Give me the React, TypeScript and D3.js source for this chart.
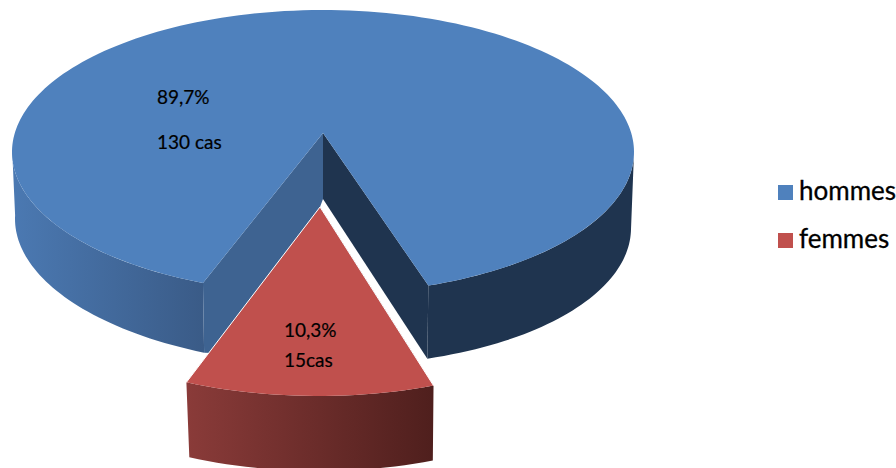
import React from "react";
import * as d3 from "d3";

// Répartition des cas selon le sexe
const categories = ["hommes", "femmes"];
const caseCounts = [130, 15];
const percentLabels = ["89,7%", "10,3%"];
const caseLabels = ["130 cas", "15cas"];
const topColors = ["#4F81BD", "#C0504D"];

const WIDTH = 896;
const HEIGHT = 468;
const rad = Math.PI / 180;

type Pt = [number, number];
type Rim = { cx: number; cy: number; rx: number; ry: number; skew?: number };

// Perspective: the pie is turned so the small slice faces the viewer.
const halfSmallSlice = (360 * caseCounts[1]) / d3.sum(caseCounts) / 2;
const pieLayout = d3
  .pie<number>()
  .sort(null)
  .startAngle((180 + halfSmallSlice) * rad)
  .endAngle((540 + halfSmallSlice) * rad);
const [menArc, womenArc] = pieLayout(caseCounts);

const warped = (a: number) => a + 4.35 * rad * Math.sin(2 * a) + 1.45 * rad;

const onRim = (r: Rim, a: number): Pt => {
  const t = warped(a);
  const x = r.cx + r.rx * Math.sin(t);
  const y = r.cy - r.ry * Math.cos(t) + (r.skew ?? 0) * (x - r.cx);
  return [x, y];
};

const sweep = (r: Rim, a0: number, a1: number): Pt[] => {
  const n = Math.max(8, Math.ceil(Math.abs(a1 - a0) / (1.5 * rad)));
  return d3.range(n + 1).map((i) => onRim(r, a0 + ((a1 - a0) * i) / n));
};

const line = d3.line<Pt>();
const closed = (pts: Pt[]) => line(pts) + "Z";

const menTop: Rim = { cx: 323, cy: 152, rx: 311, ry: 142 };
const menBottom: Rim = { cx: 323, cy: 223.5, rx: 308, ry: 142, skew: 0.015 };
const menApex: Pt = [323, 133];
const menApexBase: Pt = [323, 199];

const womenTop: Rim = { cx: 318, cy: 220, rx: 341, ry: 176 };
const womenBottom: Rim = { cx: 319, cy: 295, rx: 336, ry: 176 };
const womenApex: Pt = [320, 207];

const A0 = menArc.startAngle;
const A1 = menArc.endAngle;
const W0 = womenArc.startAngle;
const W1 = womenArc.endAngle;
const leftExtreme = Math.PI * 1.5;
const rightExtreme = Math.PI * 2.5;

const leftOuterWall = closed([...sweep(menTop, A0, leftExtreme), ...sweep(menBottom, leftExtreme, A0)]);
const rightOuterWall = closed([...sweep(menTop, A1, rightExtreme), ...sweep(menBottom, rightExtreme, A1)]);

// The left cut face runs on underneath the pulled-out slice.
const tuckPoint = d3.interpolate(womenApex, onRim(womenTop, W0))(0.85) as unknown as Pt;
const leftInnerWall = closed([menApex, onRim(menTop, A0), onRim(menBottom, A0), tuckPoint, womenApex, menApexBase]);
const rightInnerWall = closed([menApex, onRim(menTop, A1), onRim(menBottom, A1), menApexBase]);
const menFace = closed([menApex, ...sweep(menTop, A0, A1)]);

const womenWall = closed([...sweep(womenTop, W0, W1), ...sweep(womenBottom, W1, W0)]);
const womenFace = closed([womenApex, ...sweep(womenTop, W0, W1)]);

const labelFont = "Lato, sans-serif";

export default function App() {
  return (
    <svg
      width={WIDTH}
      height={HEIGHT}
      viewBox={`0 0 ${WIDTH} ${HEIGHT}`}
      style={{ position: "absolute", left: 0, top: 0, display: "block", background: "#fff" }}
    >
      <defs>
        <linearGradient id="menWall" x1="0" x2="1" y1="0" y2="0">
          <stop offset="0" stopColor="#4B79B2" />
          <stop offset="1" stopColor="#3A5B87" />
        </linearGradient>
        <linearGradient id="womenWallFill" x1="0" x2="1" y1="0" y2="0">
          <stop offset="0" stopColor="#8A3B39" />
          <stop offset="1" stopColor="#4F1F1D" />
        </linearGradient>
      </defs>

      <path d={leftOuterWall} fill="url(#menWall)" />
      <path d={rightOuterWall} fill="#1F344F" />
      <path d={leftInnerWall} fill="#3E6391" />
      <path d={rightInnerWall} fill="#1F344F" />
      <path d={menFace} fill={topColors[0]} />

      <path d={womenWall} fill="url(#womenWallFill)" />
      <path d={womenFace} fill={topColors[1]} />
      <path
        d={line([onRim(womenTop, W0), womenApex, onRim(womenTop, W1)]) ?? ""}
        fill="none"
        stroke="#fff"
        strokeWidth={1}
      />

      <g fontFamily={labelFont} fontSize={19} fill="#000" stroke="#000" strokeWidth={0.2}>
        <text x={157} y={104}>{percentLabels[0]}</text>
        <text x={157} y={149}>{caseLabels[0]}</text>
        <text x={284} y={337}>{percentLabels[1]}</text>
        <text x={284} y={367}>{caseLabels[1]}</text>
      </g>

      <g fontFamily={labelFont} fontSize={26} fill="#000" stroke="#000" strokeWidth={0.3}>
        {categories.map((c, i) => (
          <g key={c}>
            <rect x={778} y={185 + i * 48} width={15} height={15} fill={topColors[i]} stroke="none" />
            <text x={799} y={200 + i * 48}>{c}</text>
          </g>
        ))}
      </g>
    </svg>
  );
}
